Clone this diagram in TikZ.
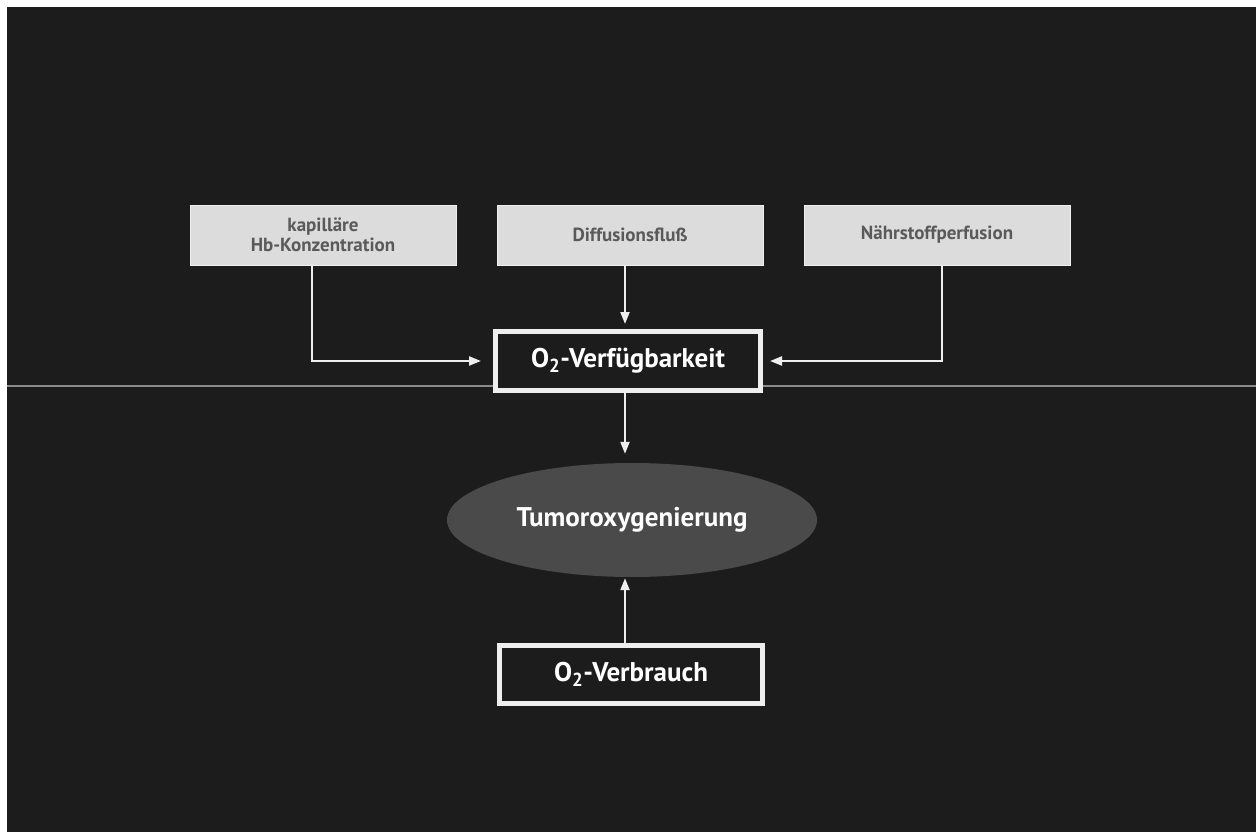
\documentclass[tikz,border=0pt]{standalone}
\usepackage{fontspec}
\setmainfont{PT Sans}
\usetikzlibrary{arrows.meta,shapes.geometric}
\definecolor{bgdark}{HTML}{1C1C1C}
\definecolor{boxlight}{HTML}{DCDCDC}
\definecolor{boxedge}{HTML}{EFEFEF}
\definecolor{txtgray}{HTML}{5A5A5A}
\definecolor{ellfill}{HTML}{4A4A4A}
\definecolor{divgray}{HTML}{8A8A8A}
\definecolor{linewhite}{HTML}{EEEEEE}
\tikzset{
  lightbox/.style={draw=boxedge, line width=1pt, fill=boxlight, minimum width=266pt, minimum height=60pt,
    inner sep=0pt, text=txtgray, font=\bfseries\fontsize{19}{20}\selectfont, align=center},
  mainbox/.style={draw=linewhite, line width=5pt, fill=bgdark, minimum width=265pt, minimum height=59pt,
    inner sep=0pt, text=white, font=\bfseries\fontsize{27}{29}\selectfont},
  ellnode/.style={ellipse, fill=ellfill, minimum width=370pt, minimum height=114pt, inner sep=0pt,
    text=white, font=\bfseries\fontsize{27}{29}\selectfont},
  conn/.style={draw=linewhite, line width=2.2pt, -{Triangle[length=12pt,width=9pt]}},
}
\begin{document}
\begin{tikzpicture}[x=1pt,y=-1pt]
\useasboundingbox (0,0) rectangle (1256,832);
\fill[white] (0,0) rectangle (1256,832);
\fill[bgdark] (7,7) rectangle (1256,832);
% divider
\coordinate (dl) at (7,386);
\coordinate (dr) at (1256,386);
\draw[divgray, line width=2pt] (dl) -- (dr);
% nodes
\node[lightbox] (hb) at (323,235) {kapilläre\\Hb-Konzentration};
\node[lightbox] (diff) at (630,235) {Diffusionsfluß};
\node[lightbox] (naehr) at (937,235) {Nährstoffperfusion};
\node[mainbox] (verf) at (628,361) {O\textsubscript{2}-Verfügbarkeit};
\node[ellnode] (tumor) at (632,520) {Tumoroxygenierung};
\node[mainbox, minimum width=263pt, minimum height=58pt] (verb) at (631,674) {O\textsubscript{2}-Verbrauch};
% connectors
\coordinate (vs) at ([xshift=-3pt]verf.south);
\coordinate (vn) at ([xshift=-6pt]verb.north);
\draw[conn, shorten >=12pt] ([xshift=-11pt]hb.south) |- (verf.west);
\draw[conn, shorten >=7pt] ([xshift=5pt]naehr.south) |- (verf.east);
\draw[conn, shorten >=5pt] ([xshift=-5pt]diff.south) -- ([xshift=-3pt]verf.north);
\draw[conn, shorten >=9pt] (vs) -- (vs |- tumor.north);
\draw[conn, shorten >=1pt] (vn) -- (vn |- tumor.south);
\end{tikzpicture}
\end{document}
